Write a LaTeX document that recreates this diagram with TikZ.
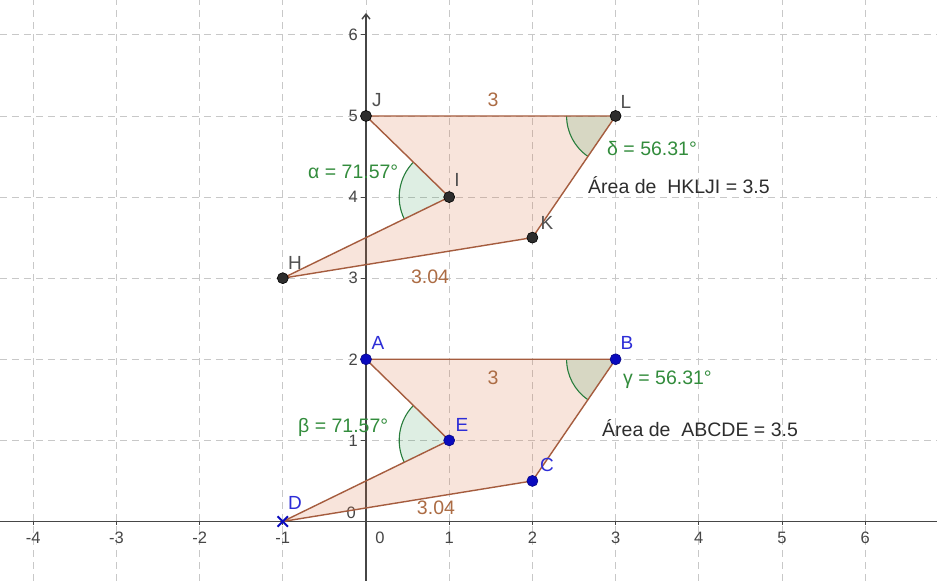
\documentclass[tikz,border=0pt]{standalone}
\usepackage{fontspec}
\setmainfont{Liberation Sans}
\usetikzlibrary{arrows.meta}
\definecolor{polytint}{RGB}{220,110,60}
\definecolor{polyedge}{RGB}{165,92,62}
\definecolor{seglab}{RGB}{172,108,68}
\definecolor{anggreen}{RGB}{40,125,60}
\definecolor{angtint}{RGB}{0,130,40}
\definecolor{angtext}{RGB}{50,140,60}
\definecolor{gridgray}{RGB}{200,200,200}
\definecolor{axisgray}{RGB}{70,70,70}
\definecolor{ptblue}{RGB}{10,10,190}
\definecolor{ptdark}{RGB}{45,45,45}
\definecolor{lblblue}{RGB}{45,45,215}
\definecolor{lblgray}{RGB}{80,80,80}
\definecolor{areatext}{RGB}{45,45,45}
\tikzset{
  gridline/.style={gridgray, line width=0.9pt, dash pattern=on 7pt off 5pt},
  axisline/.style={axisgray, line width=1.4pt},
  ticklab/.style={font=\fontsize{16.5}{18}\selectfont, text=axisgray, inner sep=0pt},
  polyfillst/.style={fill=polytint, fill opacity=0.18},
  polyedgest/.style={polyedge, line width=1.4pt, line join=round},
  angfillst/.style={fill=angtint, fill opacity=0.13},
  angarcst/.style={anggreen, line width=1.1pt},
  seglabst/.style={font=\fontsize{19.5}{21}\selectfont, text=seglab, inner sep=0pt},
  anglab/.style={font=\fontsize{19.5}{21}\selectfont, text=angtext, inner sep=0pt, anchor=west},
  arealab/.style={font=\fontsize{19.5}{21}\selectfont, text=areatext, inner sep=0pt, anchor=west},
  bluept/.style={circle, fill=ptblue, draw=ptblue!70!black, line width=0.6pt, minimum size=11pt, inner sep=0pt},
  darkpt/.style={circle, fill=ptdark, draw=black, line width=0.6pt, minimum size=11pt, inner sep=0pt},
  bluelab/.style={font=\fontsize{19}{21}\selectfont, text=lblblue, inner sep=0pt},
  graylab/.style={font=\fontsize{19}{21}\selectfont, text=lblgray, inner sep=0pt},
}
\begin{document}
\begin{tikzpicture}[x=83.2pt, y=81.1pt]
\useasboundingbox (-4.399,-0.7337) rectangle (6.863,6.430);
\fill[white] (-4.399,-0.7337) rectangle (6.863,6.430);
% grid
\foreach \i in {-4,...,6} \draw[gridline] (\i,-0.7337) -- (\i,6.430);
\foreach \j in {1,...,6} \draw[gridline] (-4.399,\j) -- (6.863,\j);
% axes
\coordinate (xl) at (-4.399,0);
\coordinate (xr) at (6.863,0);
\coordinate (yb) at (0,-0.7337);
\coordinate (yt) at (0,6.27);
\draw[axisline] (xl) -- (xr);
\draw[axisline, -{Straight Barb[length=5pt,width=8pt]}] (yb) -- (yt);
\foreach \i in {-4,-3,-2,-1,1,2,3,4,5,6} {
  \draw[axisgray, line width=1pt] (\i,0) -- ++(0,-4pt);
  \node[ticklab] (tx\i) at (\i,-0.203) {\i};
}
\node[ticklab] (tx0) at (0.168,-0.203) {0};
\foreach \j in {1,...,6} {
  \draw[axisgray, line width=1pt] (0,\j) -- ++(-5pt,0);
  \node[ticklab, anchor=east] (ty\j) at (-0.096,\j) {\j};
}
\node[ticklab, anchor=east] (ty0) at (-0.12,0.105) {0};
% points (coordinates)
\coordinate (A) at (0,2);
\coordinate (B) at (3,2);
\coordinate (C) at (2,0.5);
\coordinate (D) at (-1,0);
\coordinate (E) at (1,1);
\coordinate (H) at (-1,3);
\coordinate (K) at (2,3.5);
\coordinate (L) at (3,5);
\coordinate (J) at (0,5);
\coordinate (I) at (1,4);
% polygons
\fill[polyfillst] (A) -- (B) -- (C) -- (D) -- (E) -- cycle;
\fill[polyfillst] (H) -- (K) -- (L) -- (J) -- (I) -- cycle;
% angles
\fill[angfillst] (E) -- ++(135.73:50pt) arc[start angle=135.73, end angle=205.99, radius=50pt] -- cycle;
\draw[angarcst] (E) ++(135.73:50pt) arc[start angle=135.73, end angle=205.99, radius=50pt];
\fill[angfillst] (I) -- ++(135.73:50pt) arc[start angle=135.73, end angle=205.99, radius=50pt] -- cycle;
\draw[angarcst] (I) ++(135.73:50pt) arc[start angle=135.73, end angle=205.99, radius=50pt];
\fill[angfillst] (B) -- ++(180:49pt) arc[start angle=180, end angle=235.63, radius=49pt] -- cycle;
\draw[angarcst] (B) ++(180:49pt) arc[start angle=180, end angle=235.63, radius=49pt];
\fill[angfillst] (L) -- ++(180:49pt) arc[start angle=180, end angle=235.63, radius=49pt] -- cycle;
\draw[angarcst] (L) ++(180:49pt) arc[start angle=180, end angle=235.63, radius=49pt];
% polygon edges
\draw[polyedgest] (A) -- (B) -- (C) -- (D) -- (E) -- cycle;
\draw[polyedgest] (H) -- (K) -- (L) -- (J) -- (I) -- cycle;
% point markers
\node[bluept] (pA) at (A) {};
\node[bluept] (pB) at (B) {};
\node[bluept] (pC) at (C) {};
\node[bluept] (pE) at (E) {};
\node[inner sep=0pt, minimum size=10pt] (pD) at (D) {};
\draw[ptblue, line width=2pt] (pD.north west) -- (pD.south east) (pD.north east) -- (pD.south west);
\node[darkpt] (pH) at (H) {};
\node[darkpt] (pK) at (K) {};
\node[darkpt] (pL) at (L) {};
\node[darkpt] (pJ) at (J) {};
\node[darkpt] (pI) at (I) {};
% point labels
\node[bluelab] (lA) at (0.144,2.201) {A};
\node[bluelab] (lB) at (3.137,2.201) {B};
\node[bluelab] (lC) at (2.175,0.697) {C};
\node[bluelab] (lD) at (-0.853,0.228) {D};
\node[bluelab] (lE) at (1.154,1.190) {E};
\node[graylab] (lJ) at (0.132,5.197) {J};
\node[graylab] (lL) at (3.125,5.172) {L};
\node[graylab] (lI) at (1.094,4.211) {I};
\node[graylab] (lK) at (2.175,3.681) {K};
\node[graylab] (lH) at (-0.853,3.187) {H};
% segment labels
\node[seglabst] (sJL) at (1.526,5.197) {3};
\node[seglabst] (sAB) at (1.526,1.769) {3};
\node[seglabst] (sHK) at (0.769,3.015) {3.04};
\node[seglabst] (sDC) at (0.841,0.166) {3.04};
% angle labels
\node[anglab] (alpha) at (-0.697,4.309) {α = 71.57°};
\node[anglab] (beta) at (-0.817,1.165) {β = 71.57°};
\node[anglab] (gamma) at (3.089,1.745) {γ = 56.31°};
\node[anglab] (delta) at (2.897,4.600) {δ = 56.31°};
% area texts
\node[arealab] (areaU) at (2.668,4.149) {Área de\ \ HKLJI = 3.5};
\node[arealab] (areaL) at (2.837,1.153) {Área de\ \ ABCDE = 3.5};
\end{tikzpicture}
\end{document}
